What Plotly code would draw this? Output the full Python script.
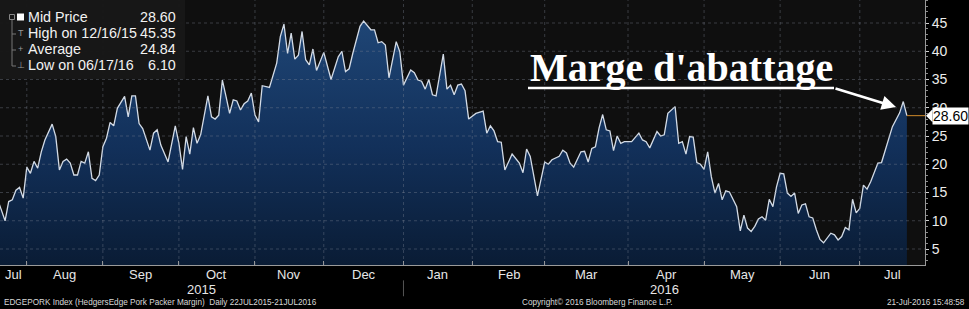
import pandas as pd
import plotly.graph_objects as go

# ---------------- data ----------------
obs_dates = [
    "2015-07-22", "2015-07-24", "2015-07-27", "2015-07-28", "2015-07-29", "2015-07-30", "2015-07-31",
    "2015-08-03", "2015-08-04", "2015-08-05", "2015-08-06", "2015-08-07", "2015-08-10", "2015-08-12",
    "2015-08-13", "2015-08-14", "2015-08-17", "2015-08-18", "2015-08-19", "2015-08-20", "2015-08-21",
    "2015-08-24", "2015-08-25", "2015-08-26", "2015-08-27", "2015-08-28", "2015-08-31",
    "2015-09-01", "2015-09-02", "2015-09-03", "2015-09-04", "2015-09-08", "2015-09-10", "2015-09-11",
    "2015-09-14", "2015-09-15", "2015-09-16", "2015-09-17", "2015-09-21", "2015-09-22", "2015-09-23",
    "2015-09-24", "2015-09-28", "2015-09-30",
    "2015-10-01", "2015-10-02", "2015-10-05", "2015-10-06", "2015-10-07", "2015-10-08", "2015-10-09",
    "2015-10-14", "2015-10-15", "2015-10-16", "2015-10-19", "2015-10-20", "2015-10-21", "2015-10-22",
    "2015-10-23", "2015-10-26", "2015-10-27", "2015-10-28", "2015-10-29", "2015-10-30",
    "2015-11-02", "2015-11-03", "2015-11-04", "2015-11-06", "2015-11-10", "2015-11-12", "2015-11-13",
    "2015-11-16", "2015-11-17", "2015-11-18", "2015-11-19", "2015-11-20", "2015-11-23", "2015-11-24",
    "2015-11-25", "2015-11-27",
    "2015-12-01", "2015-12-03", "2015-12-07", "2015-12-08", "2015-12-09", "2015-12-10", "2015-12-11",
    "2015-12-15", "2015-12-16", "2015-12-18", "2015-12-21", "2015-12-22", "2015-12-23", "2015-12-24",
    "2015-12-28", "2015-12-30", "2015-12-31",
    "2016-01-04", "2016-01-06", "2016-01-07", "2016-01-08", "2016-01-11", "2016-01-12", "2016-01-13",
    "2016-01-14", "2016-01-15", "2016-01-20", "2016-01-21", "2016-01-22", "2016-01-25", "2016-01-26",
    "2016-01-27", "2016-01-28", "2016-01-29",
    "2016-02-02", "2016-02-04", "2016-02-05", "2016-02-08", "2016-02-09", "2016-02-10", "2016-02-11",
    "2016-02-12", "2016-02-17", "2016-02-19", "2016-02-22", "2016-02-23", "2016-02-24", "2016-02-26",
    "2016-03-01", "2016-03-02", "2016-03-03", "2016-03-07", "2016-03-08", "2016-03-09", "2016-03-10",
    "2016-03-11", "2016-03-15", "2016-03-16", "2016-03-17", "2016-03-18", "2016-03-21", "2016-03-22",
    "2016-03-23", "2016-03-24", "2016-03-25", "2016-03-28", "2016-03-29", "2016-03-30", "2016-03-31",
    "2016-04-04", "2016-04-06", "2016-04-07", "2016-04-08", "2016-04-11", "2016-04-13", "2016-04-14",
    "2016-04-15", "2016-04-18", "2016-04-20", "2016-04-21", "2016-04-22", "2016-04-25", "2016-04-26",
    "2016-04-27", "2016-04-28", "2016-04-29",
    "2016-05-02", "2016-05-03", "2016-05-04", "2016-05-05", "2016-05-06", "2016-05-09", "2016-05-10",
    "2016-05-11", "2016-05-13", "2016-05-16", "2016-05-17", "2016-05-18", "2016-05-19", "2016-05-20",
    "2016-05-23", "2016-05-24", "2016-05-25", "2016-05-26", "2016-05-27", "2016-05-31",
    "2016-06-01", "2016-06-02", "2016-06-03", "2016-06-06", "2016-06-07", "2016-06-08", "2016-06-09",
    "2016-06-10", "2016-06-13", "2016-06-14", "2016-06-15", "2016-06-16", "2016-06-17", "2016-06-21",
    "2016-06-22", "2016-06-23", "2016-06-24", "2016-06-27", "2016-06-28", "2016-06-29", "2016-06-30",
    "2016-07-01", "2016-07-05", "2016-07-06", "2016-07-07", "2016-07-11", "2016-07-12", "2016-07-13",
    "2016-07-15", "2016-07-19", "2016-07-20", "2016-07-21",
]
mid_price = [
    13.7, 10.0, 13.4, 13.7, 15.4, 15.9, 14.0,
    19.5, 18.4, 20.5, 19.3, 22.2, 24.3, 27.1,
    24.9, 19.0, 20.5, 20.9, 20.2, 18.1, 18.1,
    20.5, 20.2, 22.2, 17.5, 17.1, 18.1,
    23.1, 24.6, 27.4, 26.8, 29.9, 32.0, 28.4,
    32.1, 32.1, 27.2, 26.3, 22.5, 25.5, 26.1,
    23.4, 20.4, 26.8,
    23.7, 19.1, 24.9, 21.8, 26.5, 23.7, 25.2,
    32.1, 28.4, 28.0, 28.7, 34.9, 32.0, 29.0,
    31.4, 31.2, 29.6, 30.7, 31.2, 32.6,
    28.7, 27.5, 33.9, 33.6, 37.9, 42.6, 44.8,
    39.6, 43.2, 38.6, 39.3, 43.5, 38.5, 37.6,
    40.4, 36.6,
    39.8, 35.0, 39.0, 40.0, 36.4, 36.9, 39.6,
    44.4, 45.35, 43.8, 43.8, 41.5, 41.7, 41.1,
    35.3, 41.7, 39.9,
    34.0, 36.7, 36.2, 34.9, 34.7, 33.3, 35.0,
    32.3, 32.1, 39.5, 33.3, 34.0, 32.3, 34.0,
    34.2, 33.0, 28.0,
    29.0, 29.4, 25.5, 26.8, 25.9, 24.0, 23.9,
    19.0, 21.8, 20.2, 18.5, 22.7, 21.4, 14.4,
    20.4, 20.0, 20.8, 21.4, 22.5, 22.0, 20.2,
    19.5, 22.2, 22.3, 20.4, 22.8, 23.1, 26.4,
    28.8, 26.1, 25.9, 22.4, 25.0, 23.7, 24.0,
    24.0, 25.5, 24.3, 24.0, 22.9, 25.8, 25.0,
    25.2, 29.0, 30.2, 23.7, 24.0, 21.8, 24.9,
    24.8, 20.3, 20.0,
    19.1, 22.2, 17.8, 14.9, 16.6, 13.7, 15.3,
    15.1, 12.5, 8.2, 11.0, 8.7, 8.1, 9.0,
    10.3, 10.7, 10.1, 13.8, 12.5, 16.0,
    18.4, 18.3, 14.9, 14.3, 14.9, 11.3, 12.8,
    13.0, 10.7, 10.5, 8.4, 6.7, 6.1, 7.8,
    7.5, 6.6, 7.2, 8.8, 8.4, 13.8, 11.4,
    12.2, 16.3, 15.6, 16.9, 20.2, 20.3, 22.5,
    26.65, 29.1, 31.1, 28.6,
]
average_price = 24.84

# trading calendar (US federal holidays without data)
holidays = ["2015-09-07", "2015-10-12", "2015-11-11", "2015-11-26", "2015-12-25",
            "2016-01-01", "2016-01-18", "2016-02-15", "2016-05-30", "2016-07-04"]
month_labels = ["Jul", "Aug", "Sep", "Oct", "Nov", "Dec", "Jan", "Feb", "Mar", "Apr", "May", "Jun", "Jul"]
year_labels = ["2015", "2016"]
y_ticks = [5, 10, 15, 20, 25, 30, 35, 40, 45]

# ---------------- layout constants ----------------
Y_RANGE = [2.17, 49.07]
START_POS, END_POS = 0.6, 256.0          # axis extent in trading sessions
W, H = 969, 309
PLOT_W, PLOT_H = 925, 265
FONT = "Liberation Sans, Arial, sans-serif"

sessions = pd.bdate_range("2015-07-22", "2016-07-29", freq="C", holidays=holidays)


def pos_to_date(p):
    i = int(p)
    return sessions[i] + pd.Timedelta(days=p - i)


x_start = pos_to_date(START_POS)
x_end = pos_to_date(END_POS)

# first session of every month
ser = pd.Series(range(len(sessions)), index=sessions)
first_idx = ser.groupby(sessions.to_period("M")).min()
months = [m for m in first_idx.index if first_idx[m] < END_POS]
boundaries = [first_idx[m] for m in months[1:]]
boundary_dates = [sessions[i] for i in boundaries]

fig = go.Figure()
fig.add_trace(go.Scatter(
    x=pd.to_datetime(obs_dates), y=mid_price, mode="lines",
    line=dict(color="#d3dbe6", width=1.3),
    fill="tozeroy",
    fillgradient=dict(type="vertical", start=0, stop=46,
                      colorscale=[[0, "#091a31"], [0.5, "#12305a"], [1, "#1f4676"]]),
    hoverinfo="x+y", showlegend=False,
))

shapes = []
# gridlines (drawn above the fill, as on the terminal chart)
grid_line = dict(color="rgba(125,135,150,0.38)", width=1, dash="dot")
for v in y_ticks:
    shapes.append(dict(type="line", xref="paper", yref="y", x0=0, x1=1, y0=v, y1=v,
                       line=grid_line, layer="above"))
for d in boundary_dates:
    shapes.append(dict(type="line", xref="x", yref="paper", x0=d, x1=d, y0=0, y1=1,
                       line=grid_line, layer="above"))

# legend box
px = lambda x: x / PLOT_W
py = lambda y: 1 - y / PLOT_H
shapes.append(dict(type="rect", xref="paper", yref="paper", x0=0, x1=px(185), y0=py(79), y1=1,
                   fillcolor="rgba(24,24,24,0.97)", line=dict(width=0), layer="above"))
shapes.append(dict(type="line", xref="paper", yref="paper", x0=px(12), x1=px(12), y0=py(20), y1=py(66),
                   line=dict(color="#777", width=1), layer="above"))
for yy in (34, 50, 66):
    shapes.append(dict(type="line", xref="paper", yref="paper", x0=px(12), x1=px(16), y0=py(yy), y1=py(yy),
                       line=dict(color="#777", width=1), layer="above"))
shapes.append(dict(type="rect", xref="paper", yref="paper", x0=px(9.5), x1=px(14.5), y0=py(19.5), y1=py(14.5),
                   fillcolor="rgba(24,24,24,1)", line=dict(color="#888", width=1), layer="above"))
shapes.append(dict(type="rect", xref="paper", yref="paper", x0=px(17), x1=px(24), y0=py(20.5), y1=py(13.5),
                   fillcolor="white", line=dict(width=0), layer="above"))

# last-price line and tag
last_date = pd.to_datetime(obs_dates[-1])
last_val = mid_price[-1]
shapes.append(dict(type="line", xref="x", yref="y", x0=last_date, x1=x_end, y0=last_val, y1=last_val,
                   line=dict(color="#d08a2a", width=1), layer="above"))
ly = (last_val - Y_RANGE[0]) / (Y_RANGE[1] - Y_RANGE[0])
dy = 6.5 / PLOT_H
shapes.append(dict(type="path", xref="paper", yref="paper",
                   path=f"M {px(926)},{ly} L {px(932.5)},{ly + dy} L {px(932.5)},{ly - dy} Z",
                   fillcolor="white", line=dict(width=0), layer="above"))

# underline of the callout
shapes.append(dict(type="line", xref="paper", yref="paper", x0=px(528), x1=px(834), y0=py(88), y1=py(88),
                   line=dict(color="white", width=2.6), layer="above"))

annotations = []
# month labels centred in visible part of each month
for k, m in enumerate(months):
    s = max(first_idx[m], START_POS)
    e = min(first_idx[months[k + 1]] if k + 1 < len(months) else END_POS, END_POS)
    annotations.append(dict(x=pos_to_date((s + e) / 2), xref="x", y=-0.034, yref="paper",
                            text=month_labels[k], showarrow=False, xanchor="center", yanchor="middle",
                            font=dict(family=FONT, size=13, color="#e6e6e6")))
# year labels
y2016 = first_idx[pd.Period("2016-01", "M")]
for lab, (s, e) in zip(year_labels, [(START_POS, y2016), (y2016, END_POS)]):
    annotations.append(dict(x=pos_to_date((s + e) / 2), xref="x", y=-0.092, yref="paper",
                            text=lab, showarrow=False, xanchor="center", yanchor="middle",
                            font=dict(family=FONT, size=13, color="#e6e6e6")))
shapes.append(dict(type="line", xref="x", yref="paper", x0=sessions[y2016], x1=sessions[y2016],
                   y0=-0.058, y1=-0.118, line=dict(color="#555", width=1)))

# legend texts
hi_i = max(range(len(mid_price)), key=lambda i: mid_price[i])
lo_i = min(range(len(mid_price)), key=lambda i: mid_price[i])
hi_d = pd.to_datetime(obs_dates[hi_i]).strftime("%m/%d/%y")
lo_d = pd.to_datetime(obs_dates[lo_i]).strftime("%m/%d/%y")
legend_rows = [
    ("Mid Price", f"{last_val:.2f}", 17),
    (f"High on {hi_d}", f"{mid_price[hi_i]:.2f}", 33.5),
    ("Average", f"{average_price:.2f}", 49.5),
    (f"Low on {lo_d}", f"{mid_price[lo_i]:.2f}", 65),
]
for lab, val, yy in legend_rows:
    annotations.append(dict(x=px(26), y=py(yy), xref="paper", yref="paper", text=lab, showarrow=False,
                            xanchor="left", yanchor="middle",
                            font=dict(family=FONT, size=14.3, color="#f2f2f2")))
    annotations.append(dict(x=px(178), y=py(yy), xref="paper", yref="paper", text=val, showarrow=False,
                            xanchor="right", yanchor="middle",
                            font=dict(family=FONT, size=14.3, color="#f2f2f2")))
for sym, yy in (("T", 33.5), ("+", 49.5), ("⊥", 65)):
    annotations.append(dict(x=px(20.5), y=py(yy), xref="paper", yref="paper", text=sym, showarrow=False,
                            xanchor="center", yanchor="middle",
                            font=dict(family=FONT, size=9, color="#9a9a9a")))

# last-price tag text
annotations.append(dict(x=1, xref="paper", y=last_val, yref="y", text=f"{last_val:.2f}", showarrow=False,
                        xanchor="left", yanchor="middle", xshift=7, bgcolor="white", borderpad=0,
                        font=dict(family=FONT, size=14, color="black")))

# callout
annotations.append(dict(x=px(681), y=py(68), xref="paper", yref="paper", text="Marge d'abattage",
                        showarrow=False, xanchor="center", yanchor="middle",
                        font=dict(family="Liberation Serif, Times New Roman, serif", size=40,
                                  color="white", weight="bold")))
annotations.append(dict(x=px(896), y=py(107), xref="paper", yref="paper", text="", showarrow=True,
                        ax=-62, ay=-19, axref="pixel", ayref="pixel", arrowhead=2, arrowsize=1.1,
                        arrowwidth=2.6, arrowcolor="white", standoff=0))

# footer
foot = dict(family=FONT, size=8.2, color="#d8d8d8")
annotations.append(dict(x=px(2), y=-0.143, xref="paper", yref="paper", xanchor="left", yanchor="middle",
                        showarrow=False, font=foot,
                        text="EDGEPORK Index (HedgersEdge Pork Packer Margin)  Daily 22JUL2015-21JUL2016"))
annotations.append(dict(x=px(597), y=-0.143, xref="paper", yref="paper", xanchor="center", yanchor="middle",
                        showarrow=False, font=foot, text="Copyright© 2016 Bloomberg Finance L.P."))
annotations.append(dict(x=px(967), y=-0.143, xref="paper", yref="paper", xanchor="right", yanchor="middle",
                        showarrow=False, font=foot, text="21-Jul-2016 15:48:58"))

fig.update_layout(
    width=W, height=H,
    margin=dict(l=0, r=W - PLOT_W, t=0, b=H - PLOT_H),
    paper_bgcolor="#000000", plot_bgcolor="#0f0f0f",
    showlegend=False,
    shapes=shapes, annotations=annotations,
    xaxis=dict(
        type="date", range=[x_start, x_end],
        rangebreaks=[dict(bounds=["sat", "mon"]), dict(values=holidays)],
        tickvals=boundary_dates, ticktext=[""] * len(boundary_dates),
        ticks="inside", ticklen=4, tickcolor="#9a9a9a",
        showgrid=False, zeroline=False,
        showline=True, linecolor="#9a9a9a", linewidth=1,
    ),
    yaxis=dict(
        side="right", range=Y_RANGE, tickvals=y_ticks,
        ticks="outside", ticklen=3, tickcolor="#cfcfcf",
        tickfont=dict(family=FONT, size=14, color="#ececec"),
        minor=dict(ticks="outside", ticklen=2, tickcolor="#8a8a8a", dtick=1, showgrid=False),
        showgrid=False, zeroline=False,
        showline=True, linecolor="#9a9a9a", linewidth=1,
    ),
)

fig.write_html("out.html")
